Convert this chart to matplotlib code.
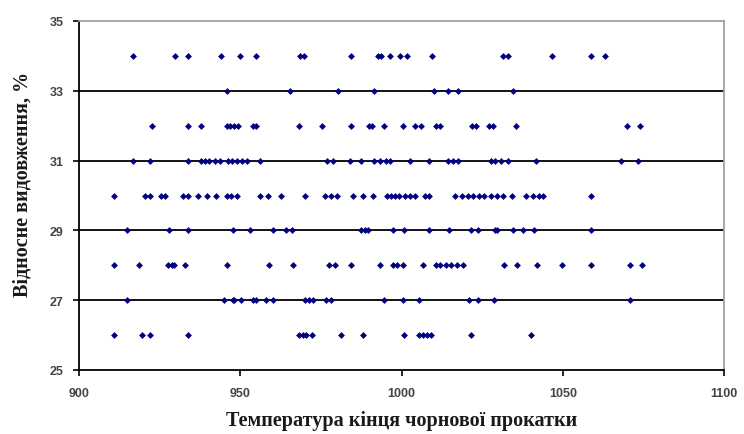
import numpy as np
import matplotlib
matplotlib.use("Agg")
import matplotlib.pyplot as plt

# relative elongation rows (%) and the rolling-end temperatures read for each row
y_levels = [34, 33, 32, 31, 30, 29, 28, 27, 26]

t34 = [916.7, 929.7, 933.7, 944, 950, 955, 968.4, 969.7, 984.3, 992.8, 993.5, 996.4,
       999.4, 1001.6, 1009.4, 1031.6, 1032.9, 1046.8, 1058.9, 1063.1]
t33 = [945.9, 965.3, 980.3, 991.5, 1010.2, 1014.4, 1017.5, 1034.7]
t32 = [922.6, 933.7, 937.8, 945.9, 946.9, 948, 949.3, 954.1, 955, 968.2, 975.3, 984.3,
       989.9, 991, 994.5, 1000.6, 1004.2, 1006.2, 1010.7, 1012, 1021.8, 1023.1, 1027,
       1028.3, 1035.5, 1070, 1074.1]
t31 = [916.7, 921.9, 933.7, 937.8, 939.1, 940.4, 942.1, 943.7, 946.3, 947.3, 948.9,
       950.5, 952.1, 956, 976.9, 978.8, 984, 987.3, 991.5, 993.2, 995.1, 996.4, 1002.5,
       1008.5, 1014.4, 1016, 1017.5, 1027.7, 1029, 1031, 1032.9, 1041.7, 1068, 1073.2]
t30 = [910.7, 920.6, 921.9, 925.5, 926.8, 932.4, 933.9, 936.8, 939.8, 942.4, 945.9,
       947.2, 948.9, 956.1, 958.7, 962.6, 970.1, 976.2, 978.2, 980.1, 985, 988, 991.2,
       995.4, 996.7, 998, 999.3, 1001, 1002.7, 1004.2, 1007.2, 1008.5, 1016.6, 1018.8,
       1020.5, 1022.2, 1024, 1025.7, 1027.7, 1029.6, 1031.6, 1034.2, 1038.7, 1040.7,
       1042.6, 1044, 1058.9]
t29 = [914.8, 927.8, 933.9, 947.8, 953.1, 960.2, 964.1, 966.1, 987.3, 988.6, 989.5,
       997.3, 1000.7, 1008.5, 1014.6, 1021.5, 1023.8, 1029, 1029.6, 1034.6, 1037.7,
       1041, 1058.9]
t28 = [910.7, 918.7, 927.7, 928.7, 929.4, 932.9, 946, 959, 966.5, 977.5, 979.5, 984.4,
       993.4, 997.3, 998.6, 1000.6, 1006.6, 1010.7, 1012, 1013.7, 1015.5, 1017.2, 1019.2,
       1031.8, 1035.7, 1042, 1049.8, 1058.9, 1070.9, 1074.5]
t27 = [915, 945, 947.6, 948.2, 950.2, 954.1, 955, 958, 960, 970.1, 971.4, 972.7, 976.5,
       978.2, 994.5, 1000.6, 1005.5, 1020.8, 1023.8, 1028.7, 1071]
t26 = [910.9, 919.6, 921.9, 933.9, 968.2, 969.5, 970.4, 972.3, 981.2, 988.2, 1000.7,
       1005.3, 1006.6, 1007.9, 1009.2, 1021.5, 1040]

rows = [t34, t33, t32, t31, t30, t29, t28, t27, t26]

x_ticks = [900, 950, 1000, 1050, 1100]
y_ticks = [25, 27, 29, 31, 33, 35]
x_title = "Температура кінця чорнової прокатки"
y_title = "Відносне видовження, %"

fig = plt.figure(figsize=(7.44, 4.35), dpi=100)
ax = fig.add_axes([79/744, 1 - 371/435, (724-79)/744, (371-22)/435])

xs = np.concatenate([np.array(r, dtype=float) for r in rows])
ys = np.concatenate([np.full(len(r), lv, dtype=float) for r, lv in zip(rows, y_levels)])

# horizontal grid
for g in y_ticks[1:-1]:
    ax.axhline(g, color="black", lw=1.3, zorder=1)

ax.plot(xs, ys, linestyle="none", marker="D", markersize=3.5,
        color="#000080", markeredgewidth=0, zorder=3)

ax.set_xlim(900, 1100)
ax.set_ylim(25, 35)
ax.set_xticks(x_ticks)
ax.set_yticks(y_ticks)

ax.spines["left"].set_color("black")
ax.spines["bottom"].set_color("black")
ax.spines["left"].set_linewidth(1.3)
ax.spines["bottom"].set_linewidth(1.3)
ax.spines["top"].set_color("#a0a0a0")
ax.spines["right"].set_color("#a0a0a0")
ax.spines["top"].set_linewidth(1.3)
ax.spines["right"].set_linewidth(1.3)

ax.tick_params(axis="both", direction="out", length=4, width=1.2, color="black",
               labelcolor="#444444", labelsize=9)
ax.tick_params(axis="y", pad=7)
ax.tick_params(axis="x", pad=8)
for lab in ax.get_xticklabels() + ax.get_yticklabels():
    lab.set_family("Liberation Sans")
    lab.set_fontweight("bold")

ax.set_xlabel(x_title, fontfamily="Liberation Serif", fontweight="bold",
              fontsize=14.5, color="#1a1a1a", labelpad=8)
ax.set_ylabel(y_title, fontfamily="Liberation Serif", fontweight="bold",
              fontsize=14.5, color="#1a1a1a")
ax.yaxis.set_label_coords(-0.072, 0.535)

fig.savefig("out.png", dpi=100)
